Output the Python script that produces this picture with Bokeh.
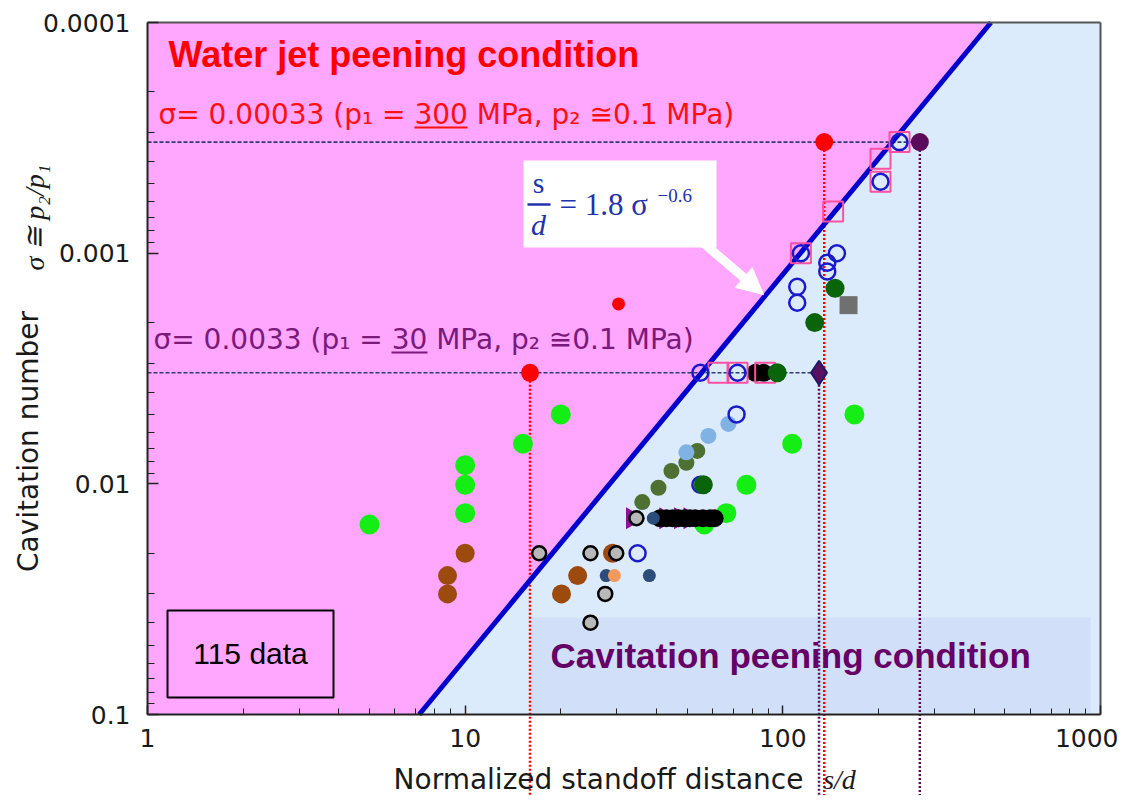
import numpy as np
from bokeh.plotting import figure
from bokeh.models import Range1d, Label, Arrow, NormalHead, FixedTicker, NumeralTickFormatter
from bokeh.embed import file_html
from bokeh.resources import INLINE

# ---------------- data ----------------
fit_coef = 1.8
fit_exp = -0.6
sigma_ends = [0.0001, 0.1]

lime_x = [5.0, 10.0, 10.0, 10.0, 15.2, 20.0, 56.6, 66.4, 76.8, 107, 168]
lime_y = [0.015, 0.0083, 0.0101, 0.0134, 0.0067, 0.005, 0.015, 0.0134, 0.0101, 0.0067, 0.005]

brown_x = [8.8, 8.8, 10.0, 20.1, 22.6, 29.1]
brown_y = [0.025, 0.030, 0.020, 0.030, 0.025, 0.020]

gray_x = [17.1, 24.8, 29.9, 27.6, 24.8, 34.6]
gray_y = [0.020, 0.020, 0.020, 0.030, 0.040, 0.0141]

bluering_x = [34.9, 71.5, 55.0, 55.0, 72.0, 111, 111, 138, 138, 148, 114, 203, 233]
bluering_y = [0.020, 0.005, 0.0101, 0.0033, 0.0033, 0.00164, 0.0014, 0.0012, 0.0011, 0.001, 0.001, 0.00049, 0.00033]

pinksq_x = [62.7, 72.0, 88.0, 114, 144, 203, 203, 233]
pinksq_y = [0.0033, 0.0033, 0.0033, 0.001, 0.00066, 0.00049, 0.00039, 0.00033]

black_x = [41, 43, 45, 47, 49, 51, 53, 56, 59, 61, 82, 87]
black_y = [0.0141] * 10 + [0.0033, 0.0033]

purpletri_x = [33.6, 42.8, 47.6, 51.0]
purpletri_y = [0.0141, 0.0141, 0.0141, 0.0141]

darkblue_x = [27.8, 38.0, 39.1]
darkblue_y = [0.025, 0.025, 0.0141]

orange_x = [29.5]
orange_y = [0.025]

olive_x = [36.1, 40.6, 44.6, 49.7, 53.8]
olive_y = [0.012, 0.0104, 0.0088, 0.0081, 0.0072]

lightblue_x = [49.7, 58.3, 67.4]
lightblue_y = [0.0073, 0.0062, 0.0055]

darkgreen_x = [56.2, 96, 126, 146]
darkgreen_y = [0.0101, 0.0033, 0.0020, 0.00142]

graysq_x = [161]
graysq_y = [0.00168]

red_x = [16, 135]
red_y = [0.0033, 0.00033]

redsmall_x = [30.4]
redsmall_y = [0.00166]

purpledot_x = [270]
purpledot_y = [0.00033]

diamond_x = [130]
diamond_y = [0.0033]

sigma_levels = [0.00033, 0.0033]
sigma_level_ends = [270, 130]

x_ticks = [1, 10, 100, 1000]
y_ticks = [0.0001, 0.001, 0.01, 0.1]

# ---------------- layout helpers (canvas pixel -> data) ----------------
W, H = 1118, 795
FL, FT, FW, FH = 147, 22, 953, 692


def dx(px):
    return 10 ** ((px - FL) / (FW / 3.0))


def dy(py):
    return 10 ** ((py - FT) / (FH / 3.0) - 4)


x0, x1 = x_ticks[0], x_ticks[-1]
y0, y1 = y_ticks[0], y_ticks[-1]

p = figure(width=W, height=H, x_axis_type="log", y_axis_type="log",
           x_range=Range1d(dx(0), dx(W)), y_range=Range1d(dy(H), dy(0)),
           output_backend="svg", toolbar_location=None, min_border=0,
           background_fill_color="white", border_fill_color="white")
p.grid.visible = False
p.outline_line_color = None

# regions
fit_x = [fit_coef * s ** fit_exp for s in sigma_ends]
p.quad(left=[x0], right=[x1], top=[y0], bottom=[y1], fill_color="#DCEBFB", line_color=None)
p.patch([x0, fit_x[0], fit_x[1], x0], [sigma_ends[0], sigma_ends[0], sigma_ends[1], sigma_ends[1]],
        fill_color="#FFA6FF", line_color=None)
p.quad(left=dx(531), right=dx(1090), top=dy(617), bottom=dy(712),
       fill_color="#D1DFF9", line_color=None)

# 115 data box
p.quad(left=dx(167), right=dx(333), top=dy(610), bottom=dy(697),
       fill_color=None, line_color="black", line_width=2)

# equation box
p.quad(left=dx(523), right=dx(716), top=dy(160), bottom=dy(247),
       fill_color="white", line_color=None)

# horizontal dashed sigma lines
for s, xe in zip(sigma_levels, sigma_level_ends):
    p.line([x0, xe], [s, s], line_color="#2E3D6E", line_width=1.6, line_dash="4 2")

# vertical dotted lines (down past the axis)
vert_x = [red_x[0], red_x[1], diamond_x[0], purpledot_x[0]]
vert_y = [red_y[0], red_y[1], diamond_y[0], purpledot_y[0]]
vert_c = ["#FF0000", "#FF0000", "#5E0A5E", "#5E0A5E"]
for vx, vy, vc in zip(vert_x, vert_y, vert_c):
    p.segment(x0=[vx], y0=[vy], x1=[vx], y1=[p.y_range.start], line_color=vc,
              line_width=2.5, line_dash="2 2")

# fitted line
p.line(fit_x, sigma_ends, line_color="#0000CC", line_width=5)

# markers
p.scatter(lime_x, lime_y, size=20, fill_color="#14EE14", line_color=None)
p.scatter(brown_x, brown_y, size=19, fill_color="#9C4A0E", line_color=None)
p.scatter(purpletri_x, purpletri_y, marker="triangle", angle=-np.pi / 2, size=22,
          fill_color="#8E0E98", line_color=None)
p.scatter(black_x, black_y, size=18, fill_color="black", line_color=None)
p.scatter(olive_x, olive_y, size=16, fill_color="#4E7033", line_color=None)
p.scatter(lightblue_x, lightblue_y, size=16, fill_color="#80B2E4", line_color=None)
p.scatter(darkblue_x, darkblue_y, size=13, fill_color="#2C4C7C", line_color=None)
p.scatter(orange_x, orange_y, size=13, fill_color="#F29A5C", line_color=None)
p.scatter(gray_x, gray_y, size=14, fill_color="#B8B8B8", line_color="black", line_width=2.5)
p.scatter(pinksq_x, pinksq_y, marker="square", size=20, fill_color=None,
          line_color="#FF4FA0", line_width=2)
p.scatter(bluering_x, bluering_y, size=16, fill_color=None, line_color="#1A1ACC", line_width=2.5)
p.scatter(darkgreen_x, darkgreen_y, size=19, fill_color="#0A640A", line_color=None)
p.scatter(graysq_x, graysq_y, marker="square", size=18, fill_color="#707070", line_color=None)
p.scatter(red_x, red_y, size=18, fill_color="#FF0000", line_color=None)
p.scatter(redsmall_x, redsmall_y, size=13, fill_color="#FF0000", line_color=None)
p.scatter(purpledot_x, purpledot_y, size=18, fill_color="#5C0A5C", line_color=None)
p.scatter(diamond_x, diamond_y, marker="diamond", size=24, fill_color="#5A1060",
          line_color="#1A1A66", line_width=2)

# frame top / right borders
p.line([x0, x1], [y0, y0], line_color="#555555", line_width=2)
p.line([x1, x1], [y0, y1], line_color="#555555", line_width=2)

# callout arrow
p.add_layout(Arrow(x_start=dx(700), y_start=dy(240), x_end=dx(763), y_end=dy(294),
                   line_color="white", line_width=9,
                   end=NormalHead(size=26, fill_color="white", line_color="white")))

# axes (drawn at the data edges)
xa, ya = p.xaxis[0], p.yaxis[0]
xa.fixed_location = y1
ya.fixed_location = x0
xa.bounds = (x0, x1)
ya.bounds = (y0, y1)
for ax in (xa, ya):
    ax.axis_line_color = "#222222"
    ax.axis_line_width = 2
    ax.major_tick_line_color = "#222222"
    ax.minor_tick_line_color = "#222222"
    ax.major_tick_line_width = 1.5
    ax.major_tick_out = 0
    ax.minor_tick_out = 0
    ax.major_label_text_font = "DejaVu Sans"
    ax.major_label_text_font_size = "25px"
    ax.major_label_text_color = "#1a1a1a"

xa.ticker = FixedTicker(ticks=x_ticks,
                        minor_ticks=[k * 10 ** e for e in range(0, 3) for k in range(2, 10)])
ya.ticker = FixedTicker(ticks=y_ticks,
                        minor_ticks=[k * 10.0 ** e for e in range(-4, -1) for k in range(2, 10)])
xa.formatter = NumeralTickFormatter(format="0")
ya.formatter = NumeralTickFormatter(format="0.[0000]")
xa.major_tick_in = 9
xa.minor_tick_in = 6
ya.major_tick_in = 11
ya.minor_tick_in = 7
xa.major_label_standoff = 14
ya.major_label_standoff = 17


def lab(px, py, text, size, color="#1a1a1a", font="DejaVu Sans", style="normal",
        align="left", angle=0.0):
    p.add_layout(Label(x=dx(px), y=dy(py), text=text, text_font=font, text_font_style=style,
                       text_font_size=f"{size}px", text_color=color, text_baseline="middle",
                       text_align=align, angle=angle))


# region titles
lab(168, 53.5, "Water jet peening condition", 36, "#FF0000", "Liberation Sans", "bold")
lab(550, 655, "Cavitation peening condition", 35, "#660066", "Liberation Sans", "bold")
lab(250, 653, "115 data", 30, "black", "Liberation Sans", align="center")

# sigma level notes
lab(158, 113.5, "σ= 0.00033 (p₁ = 300 MPa, p₂ ≅0.1 MPa)", 28, "#FF1010")
p.segment(x0=[dx(414)], y0=[dy(127)], x1=[dx(467)], y1=[dy(127)], line_color="#FF1010", line_width=2)
lab(153, 338.5, "σ= 0.0033 (p₁ = 30 MPa, p₂ ≅0.1 MPa)", 28, "#7A1A7A")
p.segment(x0=[dx(391)], y0=[dy(352)], x1=[dx(427)], y1=[dy(352)], line_color="#7A1A7A", line_width=2)

# equation
eq_col = "#2233AA"
lab(538, 182, "s", 30, eq_col, "Liberation Serif", align="center")
p.segment(x0=[dx(527)], y0=[dy(204)], x1=[dx(550)], y1=[dy(204)], line_color=eq_col, line_width=2.5)
lab(538, 224, "d", 30, eq_col, "Liberation Serif", "italic", align="center")
lab(559, 204, "= 1.8 σ", 31, eq_col, "Liberation Serif")
lab(657, 195, "−0.6", 19, eq_col, "Liberation Serif")

# axis titles
lab(598, 779, "Normalized standoff distance", 28, align="center")
lab(839, 779, "s/d", 28, font="Liberation Serif", style="italic", align="center")
lab(28, 441, "Cavitation number", 28, align="center", angle=np.pi / 2)
lab(34, 217, "σ ≅ p₂/p₁", 28, font="Liberation Serif", style="italic", align="center",
    angle=np.pi / 2)

open("out.html", "w").write(file_html(p, INLINE))
